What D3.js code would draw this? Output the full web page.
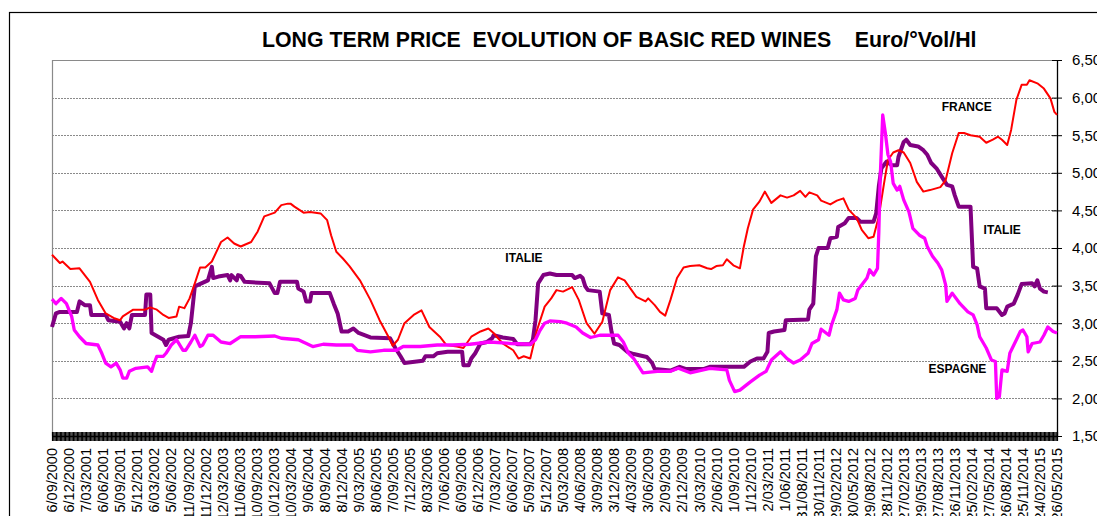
<!DOCTYPE html>
<html><head><meta charset="utf-8">
<script src="https://cdn.jsdelivr.net/npm/d3@7"></script>
<style>
body{margin:0;background:#fff;overflow:hidden}
text{font-family:"Liberation Sans",Arial,sans-serif}
</style>
</head><body>
<svg id="c" width="1097" height="516"></svg>
<script>
// Weekly category axis: 768 weeks, 6/09/2000 .. 26/05/2015; one label every 13 weeks
const weekCount = 768;
const tickLabels = ["6/09/2000","6/12/2000","7/03/2001","6/06/2001","5/09/2001","5/12/2001","6/03/2002","5/06/2002","11/09/2002","11/12/2002","12/03/2003","11/06/2003","10/09/2003","10/12/2003","10/03/2004","9/06/2004","8/09/2004","8/12/2004","9/03/2005","8/06/2005","7/09/2005","7/12/2005","8/03/2006","7/06/2006","6/09/2006","6/12/2006","7/03/2007","6/06/2007","5/09/2007","5/12/2007","5/03/2008","4/06/2008","3/09/2008","3/12/2008","4/03/2009","3/06/2009","2/09/2009","2/12/2009","3/03/2010","2/06/2010","1/09/2010","1/12/2010","2/03/2011","1/06/2011","31/08/2011","30/11/2011","29/02/2012","30/05/2012","29/08/2012","28/11/2012","27/02/2013","29/05/2013","27/08/2013","26/11/2013","25/02/2014","27/05/2014","26/08/2014","25/11/2014","24/02/2015","26/05/2015"];
const yTicks = [1.5,2.0,2.5,3.0,3.5,4.0,4.5,5.0,5.5,6.0,6.5];

// [week index, Euro/°Vol/Hl]
const france = [[0,3.91],[6,3.80],[8,3.82],[14,3.72],[21,3.73],[25,3.64],[29,3.55],[35,3.31],[41,3.13],[47,3.07],[52,3.04],[54,3.09],[62,3.18],[71,3.18],[75,3.21],[80,3.18],[85,3.11],[89,3.07],[95,3.09],[97,3.22],[101,3.20],[105,3.33],[109,3.53],[113,3.74],[117,3.74],[122,3.82],[129,4.08],[134,4.14],[139,4.06],[144,4.02],[152,4.08],[157,4.22],[162,4.42],[170,4.47],[175,4.57],[180,4.59],[182,4.59],[185,4.55],[192,4.47],[197,4.48],[205,4.46],[210,4.37],[213,4.17],[217,3.95],[222,3.86],[227,3.76],[235,3.57],[243,3.31],[250,3.04],[258,2.78],[260,2.70],[264,2.78],[269,3.00],[276,3.11],[282,3.17],[288,2.95],[296,2.82],[301,2.71],[309,2.69],[314,2.67],[320,2.82],[327,2.89],[333,2.93],[337,2.87],[344,2.73],[352,2.64],[356,2.53],[360,2.56],[365,2.53],[370,2.90],[376,3.22],[381,3.33],[385,3.44],[390,3.42],[397,3.48],[402,3.31],[408,3.00],[414,2.86],[420,3.02],[426,3.44],[432,3.61],[437,3.57],[446,3.35],[453,3.29],[455,3.33],[460,3.24],[464,3.15],[468,3.10],[472,3.31],[477,3.60],[482,3.74],[487,3.76],[494,3.77],[500,3.73],[503,3.72],[507,3.76],[512,3.77],[515,3.85],[520,3.77],[525,3.73],[528,4.02],[531,4.26],[535,4.51],[540,4.62],[544,4.75],[549,4.60],[556,4.70],[561,4.67],[566,4.70],[571,4.76],[575,4.68],[578,4.74],[584,4.70],[587,4.63],[594,4.58],[599,4.63],[604,4.66],[608,4.51],[614,4.40],[618,4.24],[623,4.13],[627,4.15],[631,4.42],[635,4.86],[638,5.17],[642,5.27],[646,5.30],[650,5.27],[655,5.13],[660,4.88],[665,4.75],[670,4.77],[678,4.81],[682,4.90],[687,5.26],[692,5.53],[696,5.53],[701,5.50],[708,5.48],[713,5.40],[718,5.44],[722,5.48],[725,5.44],[729,5.37],[732,5.57],[736,5.97],[740,6.17],[744,6.17],[746,6.23],[752,6.19],[757,6.12],[762,5.99],[765,5.81],[767,5.77]];

const italie = [[0,2.95],[3,3.13],[6,3.15],[19,3.15],[21,3.29],[25,3.24],[29,3.24],[30,3.11],[41,3.11],[43,3.04],[52,3.02],[55,2.93],[57,3.00],[59,2.93],[61,3.11],[71,3.11],[72,3.38],[75,3.38],[76,2.87],[81,2.82],[85,2.78],[87,2.71],[89,2.78],[97,2.82],[104,2.83],[106,3.00],[109,3.49],[114,3.53],[119,3.57],[122,3.75],[123,3.60],[127,3.62],[134,3.64],[136,3.57],[137,3.64],[141,3.57],[142,3.64],[144,3.63],[147,3.55],[166,3.53],[170,3.40],[172,3.40],[174,3.55],[187,3.55],[188,3.46],[192,3.42],[194,3.29],[197,3.29],[198,3.40],[212,3.40],[215,3.26],[218,3.13],[221,2.89],[226,2.89],[230,2.93],[234,2.87],[240,2.83],[243,2.81],[258,2.80],[262,2.67],[266,2.56],[269,2.47],[283,2.50],[285,2.56],[291,2.56],[294,2.60],[302,2.62],[313,2.62],[314,2.44],[318,2.44],[320,2.53],[323,2.60],[327,2.73],[332,2.75],[336,2.80],[337,2.84],[344,2.81],[352,2.79],[355,2.72],[365,2.72],[367,2.78],[369,3.04],[371,3.53],[375,3.64],[380,3.66],[385,3.64],[397,3.64],[399,3.60],[403,3.63],[405,3.60],[407,3.49],[409,3.44],[418,3.42],[420,3.13],[425,3.11],[427,2.89],[429,2.73],[433,2.71],[439,2.62],[444,2.59],[454,2.55],[458,2.47],[460,2.39],[472,2.37],[479,2.42],[484,2.39],[497,2.39],[502,2.42],[528,2.42],[533,2.49],[538,2.53],[543,2.53],[546,2.62],[547,2.87],[551,2.89],[559,2.91],[560,3.04],[577,3.05],[578,3.18],[581,3.26],[583,3.89],[585,4.00],[592,4.00],[594,4.13],[599,4.15],[600,4.28],[605,4.33],[608,4.40],[614,4.40],[617,4.35],[627,4.35],[629,4.46],[631,4.82],[633,5.06],[637,5.15],[641,5.10],[645,5.10],[646,5.21],[650,5.41],[652,5.44],[655,5.37],[661,5.35],[665,5.30],[668,5.24],[671,5.13],[675,5.06],[679,4.95],[683,4.84],[687,4.82],[689,4.70],[692,4.55],[701,4.55],[703,3.75],[706,3.73],[708,3.49],[712,3.46],[713,3.20],[721,3.20],[725,3.11],[727,3.13],[729,3.22],[734,3.26],[737,3.38],[740,3.52],[748,3.53],[750,3.49],[752,3.57],[754,3.46],[757,3.42],[760,3.41]];

const espagne = [[0,3.32],[3,3.26],[7,3.33],[11,3.26],[15,3.09],[17,2.91],[21,2.82],[26,2.73],[35,2.71],[38,2.60],[41,2.47],[45,2.42],[49,2.47],[52,2.38],[54,2.27],[57,2.27],[59,2.36],[64,2.40],[73,2.42],[76,2.36],[78,2.47],[80,2.56],[85,2.56],[87,2.60],[91,2.71],[95,2.78],[100,2.64],[102,2.64],[106,2.75],[109,2.84],[113,2.69],[115,2.71],[119,2.84],[123,2.84],[129,2.75],[136,2.73],[144,2.82],[155,2.82],[170,2.83],[175,2.80],[188,2.78],[199,2.69],[207,2.72],[217,2.71],[229,2.71],[233,2.64],[243,2.62],[253,2.64],[263,2.64],[268,2.69],[281,2.69],[294,2.71],[306,2.71],[319,2.72],[334,2.75],[350,2.73],[365,2.72],[369,2.78],[372,2.89],[376,3.00],[380,3.03],[388,3.02],[393,3.00],[400,2.95],[405,2.87],[411,2.81],[418,2.84],[432,2.84],[436,2.75],[440,2.60],[444,2.53],[451,2.34],[462,2.36],[472,2.36],[478,2.40],[487,2.34],[492,2.36],[502,2.40],[515,2.38],[517,2.24],[521,2.09],[525,2.11],[533,2.22],[540,2.31],[545,2.36],[549,2.51],[556,2.62],[561,2.53],[566,2.47],[571,2.51],[577,2.60],[580,2.73],[585,2.78],[587,2.92],[593,2.84],[595,2.98],[599,3.18],[601,3.40],[604,3.31],[608,3.29],[613,3.33],[615,3.44],[622,3.60],[624,3.71],[627,3.64],[630,3.73],[631,4.20],[632,4.90],[634,5.77],[636,5.53],[638,5.24],[640,5.15],[642,4.86],[645,4.77],[647,4.82],[650,4.64],[654,4.48],[657,4.26],[662,4.17],[666,4.13],[668,4.02],[672,3.89],[676,3.80],[679,3.71],[682,3.51],[683,3.29],[687,3.40],[693,3.26],[699,3.15],[703,3.11],[706,2.98],[708,2.82],[713,2.67],[717,2.51],[720,2.49],[721,2.00],[723,2.02],[725,2.38],[729,2.36],[731,2.60],[736,2.78],[739,2.89],[741,2.91],[744,2.82],[745,2.62],[748,2.73],[754,2.75],[757,2.84],[760,2.95],[764,2.89],[767,2.87]];

const seriesLabels = [
  {text:"FRANCE", week:679, value:5.82},
  {text:"ITALIE", week:346, value:3.81},
  {text:"ITALIE", week:711, value:4.19},
  {text:"ESPAGNE", week:669, value:2.34}
];

const svg = d3.select("#c");
const L = 52, R = 1057, T = 60, B = 436;
const x = d3.scaleLinear().domain([0, weekCount - 1]).range([L, R]);
const y = d3.scaleLinear().domain([1.5, 6.5]).range([B, T]);

// outer chart border
svg.append("rect").attr("x", 9.5).attr("y", 12.5).attr("width", 1200).attr("height", 600)
  .attr("fill", "none").attr("stroke", "#000").attr("stroke-width", 1.2);

// grid lines
svg.append("g").selectAll("line").data(yTicks.filter(v => v > 1.5 && v < 6.5)).join("line")
  .attr("x1", L).attr("x2", R).attr("y1", d => Math.round(y(d)) + 0.5).attr("y2", d => Math.round(y(d)) + 0.5)
  .attr("stroke", "#8a8a8a").attr("stroke-width", 1).attr("stroke-dasharray", "2,1");

// plot area border (top & left)
svg.append("path").attr("d", `M${L + 0.5},${B}V${T + 0.5}H${R}`)
  .attr("fill", "none").attr("stroke", "#8a8a8a").attr("stroke-width", 1.2);

// right value axis
const yAxis = d3.axisRight(y).tickValues(yTicks)
  .tickFormat(d => d3.format(".2f")(d).replace(".", ","))
  .tickSizeInner(5).tickSizeOuter(0).tickPadding(10);
const gy = svg.append("g").attr("transform", `translate(${R},0)`).call(yAxis);
gy.select(".domain").attr("stroke", "#000").attr("stroke-width", 1.3);
gy.selectAll(".tick line").attr("x1", -5).attr("stroke", "#000");
gy.selectAll(".tick text").attr("font-size", 15).attr("fill", "#000")
  .style("font-family", '"Liberation Sans",Arial,sans-serif');

// bottom category axis with one tick per week
const xAxis = d3.axisBottom(x).tickValues(d3.range(weekCount)).tickFormat("")
  .tickSizeInner(5).tickSizeOuter(0);
const gx = svg.append("g").attr("transform", `translate(0,${B})`).call(xAxis);
gx.select(".domain").attr("stroke", "#000").attr("stroke-width", 1.3);
gx.selectAll(".tick line").attr("y1", -4).attr("y2", 5).attr("stroke", "#000").attr("stroke-width", 1.2);

// rotated date labels
svg.append("g").selectAll("text").data(tickLabels).join("text")
  .attr("transform", (d, i) => `translate(${x(i * 13)},448) rotate(-90)`)
  .attr("text-anchor", "end").attr("dy", "0.36em")
  .attr("font-size", 14.5).attr("fill", "#000").text(d => d);

// lines
const line = d3.line().x(d => x(d[0])).y(d => y(d[1]));
svg.append("path").datum(italie).attr("d", line).attr("fill", "none")
  .attr("stroke", "#800080").attr("stroke-width", 4).attr("stroke-linejoin", "round");
svg.append("path").datum(france).attr("d", line).attr("fill", "none")
  .attr("stroke", "#ff0000").attr("stroke-width", 2).attr("stroke-linejoin", "round");
svg.append("path").datum(espagne).attr("d", line).attr("fill", "none")
  .attr("stroke", "#ff00ff").attr("stroke-width", 3.3).attr("stroke-linejoin", "round");

// series labels
svg.append("g").selectAll("text").data(seriesLabels).join("text")
  .attr("x", d => x(d.week)).attr("y", d => y(d.value))
  .attr("font-size", 12).attr("font-weight", "bold").attr("fill", "#000").text(d => d.text);

// title
svg.append("text").attr("x", 262).attr("y", 47)
  .attr("xml:space", "preserve").style("white-space", "pre")
  .attr("font-size", 21.3).attr("font-weight", "bold").attr("fill", "#000")
  .text("LONG TERM PRICE  EVOLUTION OF BASIC RED WINES    Euro/°Vol/Hl");
</script>
</body></html>
